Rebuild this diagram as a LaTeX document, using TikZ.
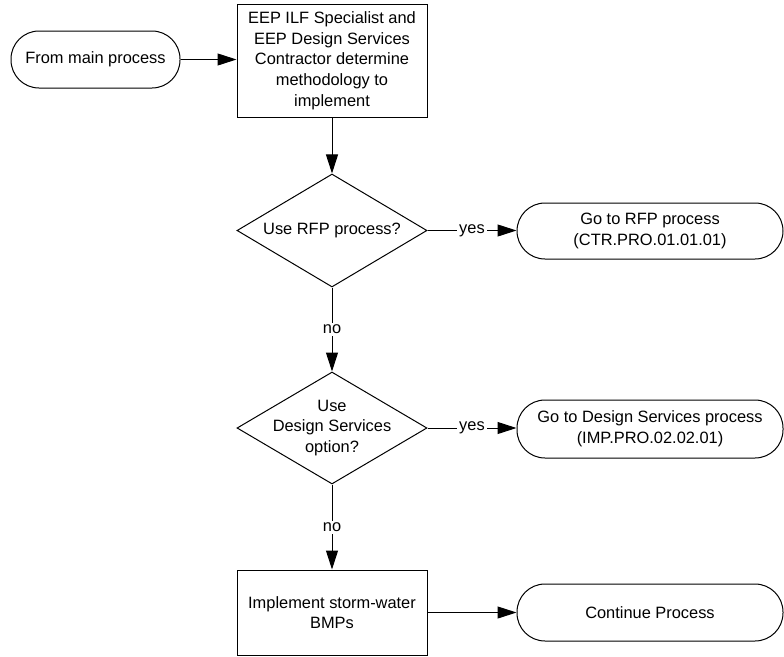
\documentclass[tikz,border=0pt]{standalone}
\usepackage{fontspec}
\setmainfont{Liberation Sans}
\usetikzlibrary{shapes.geometric,arrows.meta}
\begin{document}
\begin{tikzpicture}[x=1pt,y=-1pt,
  every node/.style={font=\fontsize{16.4}{20.7}\selectfont, align=center, inner sep=0pt},
  term/.style={draw, line width=1pt, rectangle, rounded corners=28pt, minimum width=266pt, minimum height=57pt},
  procbox/.style={draw, line width=1pt, rectangle, minimum width=190pt},
  decision/.style={draw, line width=1pt, diamond, minimum width=190pt, minimum height=113pt},
  flow/.style={line width=1pt, -{Triangle[length=19pt,width=12pt]}},
  lbl/.style={fill=white, inner sep=2pt}]
\useasboundingbox (0,0) rectangle (784,656);
\node[term, minimum width=169pt] (start) at (95.5,59.5) {From main process};
\node[procbox, minimum height=113pt] (box1) at (332,60.5) {EEP ILF Specialist and\\EEP Design Services\\Contractor determine\\methodology to\\implement};
\node[decision, label={center:Use RFP process?}] (d1) at (332,230.5) {};
\node[term, minimum height=56pt] (rfp) at (650,231) {Go to RFP process\\(CTR.PRO.01.01.01)};
\node[decision, minimum height=112pt, label={center:Use\\Design Services\\option?}] (d2) at (332,428) {};
\node[term, minimum height=58pt] (ds) at (650,429) {Go to Design Services process\\(IMP.PRO.02.02.01)};
\node[procbox, minimum height=85pt] (box3) at (332,612.5) {Implement storm-water\\BMPs};
\node[term] (cont) at (650,612.5) {Continue Process};

\draw[flow] (start) -- (start -| box1.west);
\draw[flow] (box1) -- (d1);
\draw[flow] (d1) -- node[lbl] {yes} (d1 -| rfp.west);
\draw[flow] (d1) -- node[lbl] {no} (d2);
\draw[flow] (d2) -- node[lbl] {yes} (d2 -| ds.west);
\draw[flow] (d2) -- node[lbl] {no} (box3);
\draw[flow] (box3) -- (cont);
\end{tikzpicture}
\end{document}
